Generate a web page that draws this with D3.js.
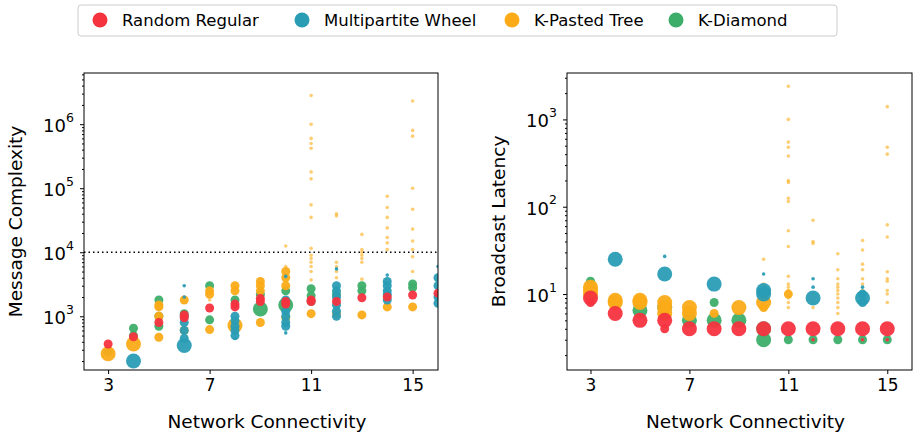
<!DOCTYPE html>
<html>
<head>
<script src="https://cdn.jsdelivr.net/npm/d3@7"></script>
<style>
body{margin:0;background:#fff;font-family:"DejaVu Sans",sans-serif}
</style>
</head>
<body>
<svg id="chart" width="915" height="435"></svg>
<script>
// series names and colours
const seriesNames = ["Random Regular", "Multipartite Wheel", "K-Pasted Tree", "K-Diamond"];
const seriesColors = ["#f5333f", "#2a9db5", "#fbab18", "#3dae6a"];
const xTicks = [3, 7, 11, 15];

// points: [connectivity, value, weight] weight 1 small, 2 medium, 3 large
const msgRed = [[3,370,2],[4,480,2],[5,800,2],[6,950,2],[6,1050,2],[7,1350,2],[8,1400,2],[8,1550,2],[9,1700,2],[9,1900,2],[10,1550,2],[10,1700,2],[11,1800,2],[11,1700,2],[12,1700,2],[13,1950,2],[14,2000,2],[15,2150,2],[16,2300,2]];
const msgBlue = [[4,200,3],[6,350,3],[6,3000,1],[6,2000,1],[6,1000,2],[6,800,2],[6,600,2],[6,450,2],[8,1000,2],[8,850,2],[8,700,2],[8,600,2],[8,500,2],[8,450,1],[10,4200,1],[10,1800,2],[10,1200,2],[10,1000,2],[10,800,2],[10,700,2],[10,550,1],[12,5500,1],[12,3000,2],[12,2500,2],[12,2000,2],[12,1500,2],[12,1200,2],[12,1000,2],[14,4400,1],[14,3500,2],[14,3000,2],[14,2500,2],[14,2200,2],[14,1800,2],[16,6000,1],[16,4000,2],[16,3000,2],[16,2000,2],[16,1600,2]];
const msgOrange = [[3,260,3],[4,370,3],[5,470,2],[5,1000,2],[5,1400,2],[5,1500,2],[6,600,2],[6,1800,2],[7,620,2],[7,2500,2],[7,2200,2],[7,1800,1],[8,720,3],[8,2500,2],[8,3000,2],[9,800,2],[9,3500,2],[9,3000,2],[9,2500,2],[10,950,2],[10,12500,1],[10,6000,1],[10,5000,2],[10,4000,2],[10,3000,2],
  [11,2.8e6,1],[11,1e6,1],[11,6e5,1],[11,5e5,1],[11,4.2e5,1],[11,1.8e5,1],[11,1.4e5,1],[11,5.5e4,1],[11,3.5e4,1],[11,1.15e4,1],[11,9000,1],[11,8000,1],[11,7000,1],[11,6000,1],[11,5000,1],[11,3700,1],[11,1100,2],
  [12,4e4,1],[12,3.7e4,1],[12,7000,1],[12,6000,1],[12,5000,1],[12,4000,1],[12,1100,2],
  [13,19000,1],[13,11000,1],[13,10000,1],[13,9000,1],[13,8000,1],[13,7000,1],[13,3800,1],[13,1050,2],
  [14,7.5e4,1],[14,5e4,1],[14,3.5e4,1],[14,2.4e4,1],[14,1.7e4,1],[14,1.4e4,1],[14,1.1e4,1],[14,1400,2],
  [15,2.3e6,1],[15,8e5,1],[15,6.5e5,1],[15,1e5,1],[15,4.7e4,1],[15,2.3e4,1],[15,1.5e4,1],[15,1.1e4,1],[15,8500,1],[15,5000,1],[15,1400,2]];
const msgGreen = [[3,280,2],[4,650,2],[4,500,2],[5,1800,2],[5,1000,2],[5,700,2],[6,1100,2],[7,880,2],[7,3000,2],[8,1800,2],[9,1300,3],[9,2200,2],[10,1500,3],[10,2500,2],[11,2700,2],[11,2100,2],[11,1700,2],[12,2200,2],[13,3000,2],[13,2500,2],[15,3200,2],[15,2800,2]];

const latRed = [[3,9,3],[3,8,2],[4,6,3],[5,5,3],[6,5,3],[6,4,2],[7,4,3],[8,4,3],[9,4,3],[10,4,3],[11,4,3],[12,4,3],[12,3,1],[13,4,3],[14,4,3],[14,3,1],[15,4,3],[15,3,1]];
const latBlue = [[4,25,3],[6,17,3],[6,27,1],[8,13,3],[10,17,1],[10,11,3],[10,10,3],[12,15,1],[12,12,1],[12,9,3],[14,12,1],[14,10,2],[14,9,3],[14,8,2]];
const latOrange = [[3,12,3],[3,11,3],[3,10,3],[4,8.5,3],[4,8,3],[5,8.5,3],[5,8,3],[6,8,3],[6,7,3],[6,6,3],[7,7,3],[7,6,3],[8,6,2],[9,7,3],[10,25,1],[10,13,1],[10,12,1],[10,9,1],[10,8,3],[10,7,2],
  [11,2400,1],[11,1000,1],[11,550,1],[11,480,1],[11,380,1],[11,200,1],[11,190,1],[11,125,1],[11,115,1],[11,53,1],[11,35,1],[11,16,1],[11,13,1],[11,12,1],[11,11,1],[11,10,2],[11,9,1],[11,8,1],[11,7,1],
  [12,70,1],[12,40,1],[12,38,1],[12,10,1],[12,8,1],[12,7,1],
  [13,29,1],[13,19,1],[13,15,1],[13,13,1],[13,12,1],[13,11,1],[13,10,1],[13,9,1],[13,8,1],[13,7,1],[13,6,1],
  [14,41,1],[14,32,1],[14,22,1],[14,19,1],[14,15,1],[14,13,1],[14,11,1],
  [15,1400,1],[15,480,1],[15,400,1],[15,62,1],[15,45,1],[15,18,1],[15,15,1],[15,14,1],[15,11,1],[15,10,1],[15,8,1]];
const latGreen = [[3,14,2],[5,6.5,3],[6,7,3],[7,5,3],[8,8,2],[8,5,3],[9,5,3],[10,3,3],[10,4,3],[11,3,2],[12,3,2],[13,3,2],[14,3,2],[15,3,2]];

const svg = d3.select("#chart");
const rScale = d3.scaleOrdinal().domain([1, 2, 3]).range([1.8, 4.5, 7.5]);

function panel(left, right, yDom, yLabel, sets, refLine) {
  const top = 73, bottom = 370;
  const x = d3.scaleLinear().domain([2.05, 16]).range([left, right]);
  const y = d3.scaleLog().domain(yDom).range([bottom, top]);
  const g = svg.append("g");
  const clip = "clip" + left;
  g.append("clipPath").attr("id", clip).append("rect")
    .attr("x", left).attr("y", top).attr("width", right - left).attr("height", bottom - top);
  const pts = g.append("g").attr("clip-path", `url(#${clip})`);
  // draw order: green, orange, blue, red
  [3, 2, 1, 0].forEach(i => {
    pts.selectAll(null).data(sets[i]).join("circle")
      .attr("cx", d => x(d[0])).attr("cy", d => y(d[1]))
      .attr("r", d => rScale(d[2]))
      .attr("fill", seriesColors[i])
      .attr("opacity", d => d[2] === 1 && i === 2 ? 0.6 : 0.95);
  });
  if (refLine) {
    g.append("line").attr("x1", left).attr("x2", right)
      .attr("y1", y(refLine)).attr("y2", y(refLine))
      .attr("stroke", "#000").attr("stroke-width", 1.5).attr("stroke-dasharray", "1.5,3");
  }
  g.append("rect").attr("x", left).attr("y", top).attr("width", right - left).attr("height", bottom - top)
    .attr("fill", "none").attr("stroke", "#000").attr("stroke-width", 1);
  const xa = g.append("g").attr("transform", `translate(0,${bottom})`)
    .call(d3.axisBottom(x).tickValues(xTicks).tickSize(4).tickPadding(5));
  xa.select(".domain").remove();
  xa.selectAll("text").attr("font-size", 17).attr("font-family", "DejaVu Sans").attr("fill", "#000");
  // log axis: majors with labels, minors without
  const [lo, hi] = yDom;
  const majors = [], minors = [];
  for (let e = Math.floor(Math.log10(lo)); e <= Math.ceil(Math.log10(hi)); e++) {
    for (let m = 1; m < 10; m++) {
      const v = m * Math.pow(10, e);
      if (v < lo || v > hi) continue;
      (m === 1 ? majors : minors).push(v);
    }
  }
  const ya = g.append("g").attr("transform", `translate(${left},0)`)
    .call(d3.axisLeft(y).tickValues(majors).tickSize(4).tickPadding(3).tickFormat(""));
  ya.select(".domain").remove();
  ya.selectAll(".tick").each(function(v) {
    const t = d3.select(this);
    t.append("text").attr("x", -18).attr("dy", "0.42em").attr("font-family", "DejaVu Sans")
      .attr("text-anchor", "end").attr("font-size", 18).attr("fill", "#000").text("10");
    t.append("text").attr("x", -18).attr("y", -3).attr("font-family", "DejaVu Sans")
      .attr("text-anchor", "start").attr("font-size", 12.5).attr("fill", "#000")
      .text(Math.round(Math.log10(v)));
  });
  g.append("g").attr("transform", `translate(${left},0)`)
    .call(d3.axisLeft(y).tickValues(minors).tickSize(2).tickFormat(""))
    .select(".domain").remove();
  g.append("text").attr("x", (left + right) / 2 + 6).attr("y", 428).attr("text-anchor", "middle")
    .attr("font-size", 18.5).text("Network Connectivity");
  g.append("text").attr("transform", `translate(${left - 62},${(top + bottom) / 2}) rotate(-90)`)
    .attr("text-anchor", "middle").attr("font-size", 18.5).text(yLabel);
}

panel(84, 438, [145, 6.3e6], "Message Complexity", [msgRed, msgBlue, msgOrange, msgGreen], 1e4);
panel(567, 912, [1.35, 3400], "Broadcast Latency", [latRed, latBlue, latOrange, latGreen], null);

// legend
const lg = svg.append("g");
lg.append("rect").attr("x", 78).attr("y", 5).attr("width", 759).attr("height", 31)
  .attr("rx", 3).attr("fill", "#fff").attr("stroke", "#ccc");
const legendX = [100, 302, 512, 676];
seriesNames.forEach((n, i) => {
  lg.append("circle").attr("cx", legendX[i]).attr("cy", 20).attr("r", 7.5).attr("fill", seriesColors[i]);
  lg.append("text").attr("x", legendX[i] + 22).attr("y", 26).attr("font-size", 16.5).text(n);
});
</script>
</body>
</html>
